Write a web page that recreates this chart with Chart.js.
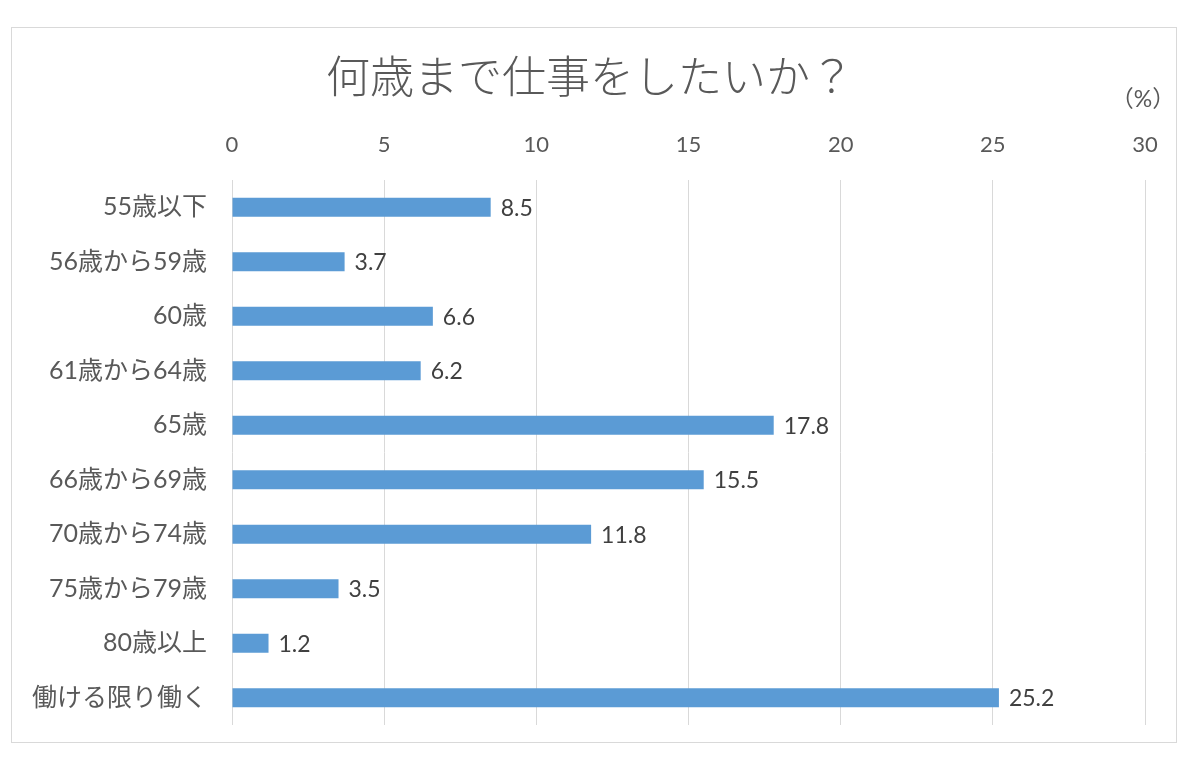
<!DOCTYPE html>
<html lang="ja">
<head>
<meta charset="utf-8">
<title>何歳まで仕事をしたいか？</title>
<script src="https://cdn.jsdelivr.net/npm/chart.js@4/dist/chart.umd.min.js"></script>
<style>
    html, body { margin: 0; padding: 0; background: #fff; }
    #wrap { position: relative; width: 1200px; height: 777px; }
    #frame {
        position: absolute; left: 11px; top: 27px; width: 1166px; height: 716px;
        border: 1px solid #d9d9d9; box-sizing: border-box;
    }
    canvas { position: absolute; left: 0; top: 0; }
</style>
</head>
<body>
<div id="wrap">
    <div id="frame"></div>
    <canvas id="ageChart" width="1200" height="777"></canvas>
</div>
<script>
const categories = ["55歳以下", "56歳から59歳", "60歳", "61歳から64歳", "65歳",
    "66歳から69歳", "70歳から74歳", "75歳から79歳", "80歳以上", "働ける限り働く"];
const shares = [8.5, 3.7, 6.6, 6.2, 17.8, 15.5, 11.8, 3.5, 1.2, 25.2];
const xTicks = [0, 5, 10, 15, 20, 25, 30];

const titleText = "何歳まで仕事をしたいか？";
const unitText = "（%）";
const fontFamily = 'Lato, "Noto Sans CJK JP", sans-serif';

// title, unit label and value labels are drawn by hand so they sit where the original has them
const textPlugin = {
    id: "textPlugin",
    afterDatasetsDraw(chart) {
        const ctx = chart.ctx;
        ctx.save();
        ctx.fillStyle = "#595959";
        ctx.textAlign = "center";
        ctx.textBaseline = "middle";
        ctx.font = `300 44px ${fontFamily}`;
        ctx.fillText(titleText, 590, 79);

        ctx.font = `23px ${fontFamily}`;
        ctx.fillText(unitText, 1143, 100);

        ctx.fillStyle = "#404040";
        ctx.textAlign = "left";
        ctx.font = `23px ${fontFamily}`;
        const meta = chart.getDatasetMeta(0);
        meta.data.forEach((bar, i) => {
            ctx.fillText(shares[i].toFixed(1), bar.x + 10, bar.y + 1);
        });
        ctx.restore();
    }
};

new Chart(document.getElementById("ageChart"), {
    type: "bar",
    data: {
        labels: categories,
        datasets: [{
            data: shares,
            backgroundColor: "#5b9bd5",
            borderWidth: 0,
            barPercentage: 0.7,
            categoryPercentage: 0.5
        }]
    },
    options: {
        indexAxis: "y",
        responsive: false,
        animation: false,
        layout: {padding: {left: 0, right: 55, top: 120, bottom: 52}},
        plugins: {
            legend: {display: false},
            title: {display: false},
            tooltip: {enabled: false}
        },
        scales: {
            x: {
                position: "top",
                min: 0,
                max: 30,
                afterBuildTicks: axis => { axis.ticks = xTicks.map(v => ({value: v})); },
                afterFit: axis => { axis.height = 60; },
                grid: {color: "#d9d9d9", drawTicks: false},
                border: {display: false},
                ticks: {
                    color: "#595959",
                    padding: 22,
                    font: {family: fontFamily, size: 22}
                }
            },
            y: {
                afterFit: axis => { axis.width = 232; },
                grid: {display: false, drawTicks: false},
                border: {display: false},
                ticks: {
                    color: "#595959",
                    padding: 25,
                    font: {family: fontFamily, size: 25}
                }
            }
        }
    },
    plugins: [textPlugin]
});
</script>
</body>
</html>
